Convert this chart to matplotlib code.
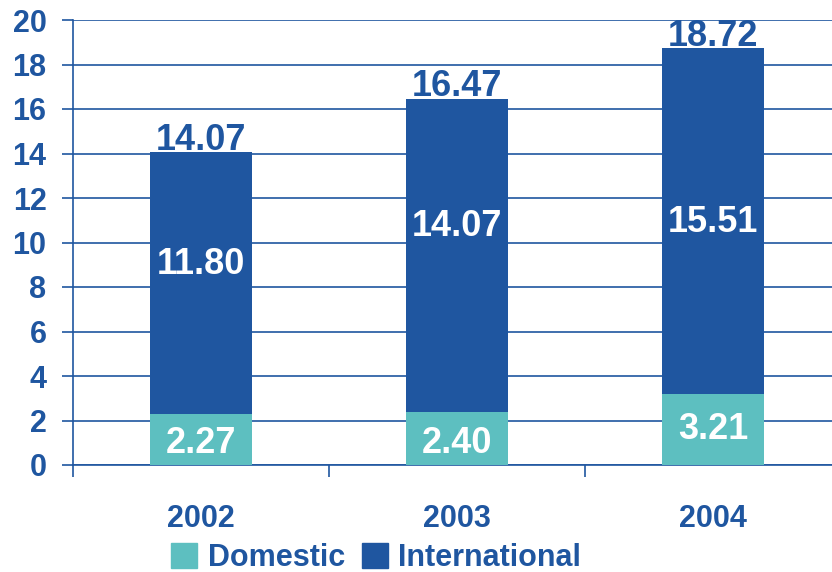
import matplotlib.pyplot as plt
from matplotlib.patches import Patch

# datos
years = ["2002", "2003", "2004"]
domestic = [2.27, 2.40, 3.21]
international = [11.80, 14.07, 15.51]
totals = [14.07, 16.47, 18.72]

# ajuste fino de donde van las etiquetas dentro de las barras
ajuste_int = [0.85, 1.3, -0.05]
ajuste_dom = [-0.18, -0.22, -0.03]

azul = "#1F56A0"
verde = "#5DBFC0"
plt.rcParams['font.family'] = ['Liberation Sans', 'DejaVu Sans']

fig = plt.figure(figsize=(8.32, 5.72), dpi=100)
ax = fig.add_axes([73/832, 1 - 465/572, 768/832, 445/572])

x = range(len(years))
ax.bar(x, domestic, width=0.4, color=verde, zorder=3)
ax.bar(x, international, width=0.4, bottom=domestic, color=azul, zorder=3)

for i in x:
    ax.text(i, domestic[i] / 2 + ajuste_dom[i], f"{domestic[i]:.2f}", ha="center", va="center",
            color="white", fontsize=26, fontweight="bold", zorder=4)
    ax.text(i, domestic[i] + international[i] / 2 + ajuste_int[i], f"{international[i]:.2f}",
            ha="center", va="center", color="white", fontsize=26, fontweight="bold", zorder=4)
    ax.text(i, totals[i] + 0.1, f"{totals[i]:.2f}", ha="center", va="baseline",
            color=azul, fontsize=26, fontweight="bold", zorder=4)

ax.set_ylim(0, 20)
ax.set_xlim(-0.5, 2.5)
ax.set_yticks(range(0, 21, 2))
ax.yaxis.grid(True, color=azul, linewidth=1.2, zorder=0)
ax.tick_params(axis="y", colors=azul, labelsize=22, length=8, width=1.2, pad=11)
for lab in ax.get_yticklabels():
    lab.set_fontweight("bold")

ax.set_xticks(list(x))
ax.set_xticklabels(years, fontsize=22, fontweight="bold", color=azul)
ax.set_xticks([-0.5, 0.5, 1.5, 2.5], minor=True)
ax.tick_params(axis="x", which="major", length=0, pad=28)
ax.tick_params(axis="x", which="minor", length=8.5, width=1.2, color=azul)

for s in ["top", "right"]:
    ax.spines[s].set_visible(False)
ax.spines["left"].set_color(azul)
ax.spines["bottom"].set_color(azul)
ax.spines["left"].set_linewidth(1.2)
ax.spines["bottom"].set_linewidth(1.2)

handles = [Patch(color=verde, label="Domestic"), Patch(color=azul, label="International")]
leg = fig.legend(handles=handles, loc="center", bbox_to_anchor=(0.452, 1 - 558/572), ncol=2,
                 frameon=False, handlelength=0.85, handleheight=0.85, handletextpad=0.35,
                 columnspacing=0.55, borderpad=0, prop={"size": 22, "weight": "bold"})
for t in leg.get_texts():
    t.set_color(azul)

fig.savefig("out.png", dpi=100)
